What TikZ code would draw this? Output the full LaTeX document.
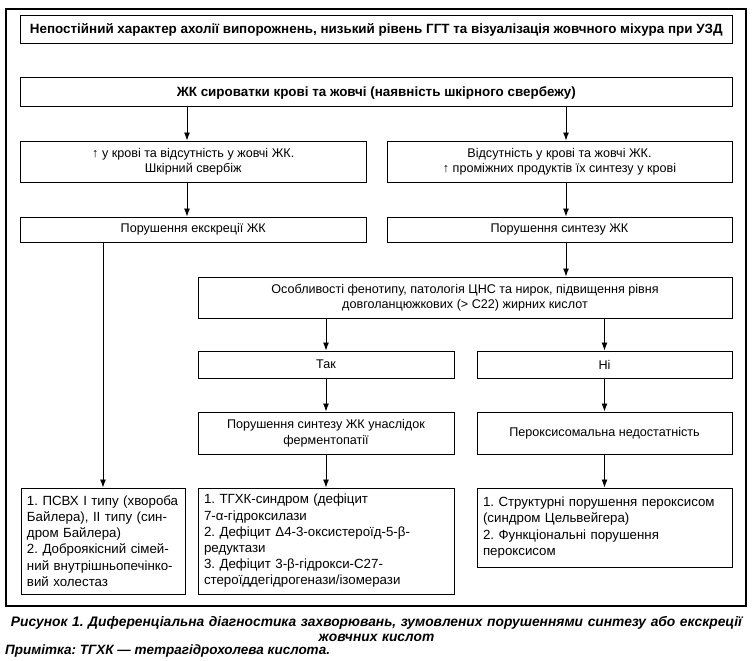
\documentclass[tikz,border=0pt]{standalone}
\usepackage{fontspec}
\setmainfont{Liberation Sans}
\usetikzlibrary{arrows.meta}
\begin{document}
\frenchspacing
\begin{tikzpicture}[x=1pt,y=-1pt,
  bx/.style={draw, line width=1pt, inner sep=2pt, align=center, font=\fontsize{12.6}{15.5}\selectfont},
  bb/.style={bx, font=\bfseries\fontsize{13.4}{15}\selectfont},
  lst/.style={bx, align=left, font=\fontsize{13.3}{16.2}\selectfont},
  cp/.style={font=\bfseries\itshape\fontsize{13.8}{14.5}\selectfont, inner sep=0pt},
  arr/.style={line width=0.9pt, -{Latex[length=8pt,width=6pt]}},
  ln/.style={line width=0.9pt}]
\useasboundingbox (0,0) rectangle (753,661);
\draw[line width=1.1pt] (6,9) rectangle (746,606);
\node[bb, minimum width=711.5pt, minimum height=28pt] (b1) at (376.25,30) {Непостійний характер ахолії випорожнень, низький рівень ГГТ та візуалізація жовчного міхура при УЗД};
\node[bb, minimum width=711.5pt, minimum height=29pt] (b2) at (376.25,92.5) {ЖК сироватки крові та жовчі (наявність шкірного свербежу)};
\node[bx, minimum width=345.5pt, minimum height=41pt] (b3L) at (193.25,161.5) {↑ у крові та відсутність у жовчі ЖК.\\ Шкірний свербіж};
\node[bx, minimum width=345pt, minimum height=41pt] (b3R) at (559.5,161.5) {Відсутність у крові та жовчі ЖК.\\ ↑ проміжних продуктів їх синтезу у крові};
\node[bx, minimum width=345.5pt, minimum height=25pt] (b4L) at (193.25,229.5) {Порушення екскреції ЖК};
\node[bx, minimum width=345pt, minimum height=25pt] (b4R) at (559.5,229.5) {Порушення синтезу ЖК};
\node[bx, minimum width=534pt, minimum height=41pt] (b5) at (465,297.5) {Особливості фенотипу, патологія ЦНС та нирок, підвищення рівня\\ довголанцюжкових (> С22) жирних кислот};
\node[bx, minimum width=256pt, minimum height=27pt] (tak) at (326,364.5) {Так};
\node[bx, minimum width=255pt, minimum height=27pt] (ni) at (604.5,364.5) {Ні};
\node[bx, minimum width=256pt, minimum height=42pt] (b6L) at (326,433) {Порушення синтезу ЖК унаслідок\\ ферментопатії};
\node[bx, minimum width=255pt, minimum height=42pt] (b6R) at (604.5,433) {Пероксисомальна недостатність};
\node[lst, minimum width=164pt, minimum height=106pt, text width=152pt] (b7L) at (103,541) {1. ПСВХ І типу (хвороба\\ Байлера), ІІ типу (син-\\ дром Байлера)\\ 2. Доброякісний сімей-\\ ний внутрішньопечінко-\\ вий холестаз};
\node[lst, minimum width=256pt, minimum height=106pt, text width=244pt] (b7M) at (326,541) {1. ТГХК-синдром (дефіцит\\ 7-α-гідроксилази\\ 2. Дефіцит Δ4-3-оксистероїд-5-β-\\ редуктази\\ 3. Дефіцит 3-β-гідрокси-С27-\\ стероїддегідрогенази/ізомерази};
\node[lst, minimum width=255pt, minimum height=79pt, text width=243pt] (b7R) at (604.5,527.5) {1. Структурні порушення пероксисом\\ (синдром Цельвейгера)\\ 2. Функціональні порушення\\ пероксисом};
\coordinate (xL) at (187,0);
\coordinate (xR) at (566,0);
\draw[arr] (b2.south -| xL) -- (b3L.north -| xL);
\draw[arr] (b2.south -| xR) -- (b3R.north -| xR);
\draw[arr] (b3L.south -| xL) -- (b4L.north -| xL);
\draw[arr] (b3R.south -| xR) -- (b4R.north -| xR);
\draw[arr] (b4L.south -| b7L.north) -- (b7L.north);
\draw[arr] (b4R.south -| xR) -- (b5.north -| xR);
\draw[arr] (b5.south -| tak.north) -- (tak.north);
\draw[arr] (b5.south -| ni.north) -- (ni.north);
\draw[arr] (tak) -- (b6L);
\draw[arr] (ni) -- (b6R);
\draw[arr] (b6L) -- (b7M);
\draw[arr] (b6R) -- (b7R);
\node[cp, text width=749pt, align=center] (cap) at (376.5,629) {Рисунок 1. Диференціальна діагностика захворювань, зумовлених порушеннями синтезу або екскреції\\ жовчних кислот};
\node[cp, anchor=west, font=\bfseries\itshape\fontsize{13.5}{14.5}\selectfont] (note) at (5,651) {Примітка: ТГХК — тетрагідрохолева кислота.};
\end{tikzpicture}
\end{document}
